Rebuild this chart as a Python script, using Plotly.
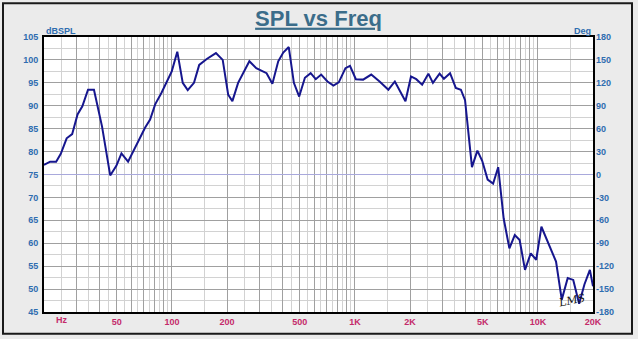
import numpy as np
import plotly.graph_objects as go

# Measured response: frequency (Hz) and level (dB SPL)
freq_hz = [20, 21.6, 23.3, 24.7, 26.6, 28.5, 30.5, 32.4, 34.8, 37.5,
           41.5, 46, 49.7, 53, 57.6, 64, 71.3, 76, 81, 87.6,
           93, 99.8, 107, 114.6, 122, 132, 141, 155, 174, 189.5,
           203, 214, 230, 265, 289, 310, 329, 354, 381, 406,
           435, 464, 496, 533, 573, 611, 654, 708, 763, 816,
           888, 940, 1012, 1109, 1228, 1364, 1523, 1653, 1889, 2025,
           2163, 2330, 2520, 2669, 2902, 3064, 3311, 3559, 3794, 3998,
           4361, 4669, 4960, 5313, 5690, 6066, 6500, 6985, 7475, 7946,
           8500, 9140, 9790, 10450, 11200, 12560, 13500, 14550, 15600, 16800,
           17950, 19230, 20000]
spl_db = [77.1, 77.8, 77.8, 79.5, 82.9, 83.8, 88.1, 89.9, 93.5, 93.5,
          85.5, 74.8, 76.9, 79.6, 77.8, 81.6, 85.2, 87.0, 90.3, 92.8,
          95.0, 97.5, 101.8, 95.0, 93.4, 95.0, 98.9, 100.2, 101.5, 100.0,
          92.4, 91.0, 95.0, 99.7, 98.2, 97.7, 97.1, 94.8, 99.7, 101.6,
          102.8, 95.0, 92.0, 96.1, 97.1, 95.8, 96.8, 95.3, 94.4, 95.1,
          98.2, 98.7, 95.8, 95.7, 96.8, 95.3, 93.5, 95.3, 91.0, 96.4,
          95.8, 94.6, 97.0, 95.0, 97.0, 95.9, 97.1, 93.9, 93.5, 91.2,
          76.6, 80.2, 78.0, 73.9, 73.0, 76.6, 65.4, 58.9, 61.8, 60.7,
          54.2, 57.8, 56.4, 63.6, 60.7, 56.0, 47.7, 52.4, 52.0, 46.8,
          51.0, 54.2, 50.6]

# Axis ticks
x_major = [20, 30, 40, 50, 60, 70, 80, 90, 100, 200, 300, 400, 500, 600, 700, 800, 900,
           1000, 2000, 3000, 4000, 5000, 6000, 7000, 8000, 9000, 10000, 20000]
x_labels = {50: "50", 100: "100", 200: "200", 500: "500", 1000: "1K",
            2000: "2K", 5000: "5K", 10000: "10K", 20000: "20K"}
x_minor = [25, 35, 45, 55, 65, 75, 85, 95, 150, 250, 350, 450, 550, 650, 750, 850, 950,
           1500, 2500, 3500, 4500, 5500, 6500, 7500, 8500, 9500, 15000]
db_ticks = list(range(45, 106, 5))
deg_ticks = list(range(-180, 181, 30))

W, H = 638, 339
L, R, T, B = 44, 45, 37, 25
pw = W - L - R
ph = H - T - B

def px_x(p):
    return (p - L) / pw

def px_y(p):
    return 1 - (p - T) / ph

blue_txt = "#2f6db0"
mag_txt = "#c42a6a"
fnt = "Liberation Sans"

fig = go.Figure()

fig.add_trace(go.Scatter(
    x=freq_hz, y=spl_db, mode="lines",
    line=dict(color="#16168e", width=2),
    hoverinfo="skip", showlegend=False,
))
# Phase axis carrier (keeps the right-hand axis active)
fig.add_trace(go.Scatter(
    x=[20, 20000], y=[0, 0], yaxis="y2", mode="lines",
    line=dict(color="rgba(0,0,0,0)", width=0),
    hoverinfo="skip", showlegend=False,
))

fig.update_layout(
    width=W, height=H,
    margin=dict(l=L, r=R, t=T, b=B),
    paper_bgcolor="#ebebeb",
    plot_bgcolor="#ffffff",
    title=dict(
        text="<b>SPL vs Freq</b>", x=0.5, xref="paper", xanchor="center",
        y=1 - 18 / H, yref="container", yanchor="middle",
        font=dict(family=fnt, size=22, color="#3b6d8a", lineposition="under"),
    ),
    xaxis=dict(
        type="log", range=[np.log10(20), np.log10(20000)],
        tickmode="array", tickvals=x_major,
        ticktext=[x_labels.get(v, "") for v in x_major],
        tickfont=dict(family=fnt, size=9, color=mag_txt, weight="bold"),
        showgrid=True, gridcolor="#a0a0a0", gridwidth=1,
        minor=dict(tickmode="array", tickvals=x_minor, showgrid=True,
                   gridcolor="#d2d2d2", gridwidth=1, ticks=""),
        showline=True, linecolor="#000000", linewidth=2, mirror=True,
        ticks="", zeroline=False,
    ),
    yaxis=dict(
        range=[45, 105], tickmode="array", tickvals=db_ticks,
        ticktext=[str(v) for v in db_ticks],
        tickfont=dict(family=fnt, size=9, color=blue_txt, weight="bold"),
        showgrid=True, gridcolor="#a0a0a0", gridwidth=1,
        minor=dict(dtick=2.5, tick0=45, showgrid=True, gridcolor="#d2d2d2", gridwidth=1, ticks=""),
        showline=True, linecolor="#000000", linewidth=2, mirror=True,
        ticks="", ticklabelstandoff=2, zeroline=False,
    ),
    yaxis2=dict(
        range=[-180, 180], overlaying="y", side="right",
        tickmode="array", tickvals=deg_ticks,
        ticktext=[str(v) for v in deg_ticks],
        tickfont=dict(family=fnt, size=9, color=blue_txt, weight="bold"),
        showgrid=False, zeroline=True, zerolinecolor="#a9a9dc", zerolinewidth=1,
        ticks="", ticklabelstandoff=2,
    ),
)

# Outer frame of the panel
fig.add_shape(type="rect", xref="paper", yref="paper",
              x0=px_x(3), x1=px_x(632), y0=px_y(336), y1=px_y(3),
              line=dict(color="#1a1a1a", width=2), layer="below")

annots = [
    dict(text="<b>dBSPL</b>", x=px_x(44), y=px_y(31), xanchor="left",
         font=dict(family=fnt, size=9, color=blue_txt)),
    dict(text="<b>Deg</b>", x=px_x(593), y=px_y(31), xanchor="right",
         font=dict(family=fnt, size=9, color=blue_txt)),
    dict(text="<b>Hz</b>", x=px_x(54), y=px_y(322), xanchor="left",
         font=dict(family=fnt, size=9, color=mag_txt)),
    dict(text="<i>LMS</i>", x=px_x(572), y=px_y(302), xanchor="center",
         font=dict(family="DejaVu Serif", size=11, color="#111111"), textangle=-12),
]
for a in annots:
    fig.add_annotation(xref="paper", yref="paper", yanchor="middle",
                       showarrow=False, **a)

fig.write_html("out.html")
